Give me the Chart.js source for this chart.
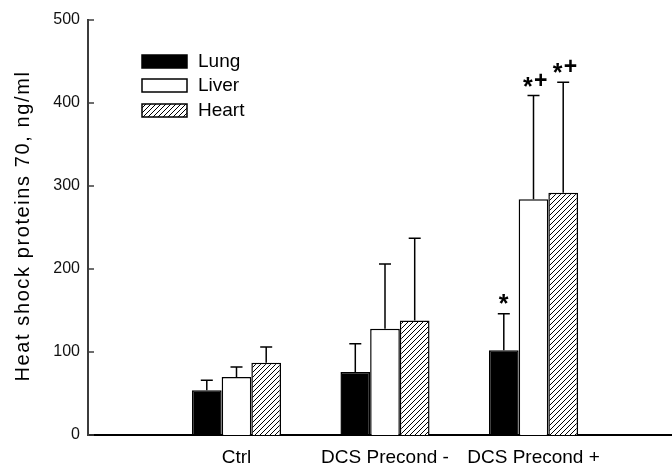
<!DOCTYPE html>
<html>
<head>
<meta charset="utf-8">
<script src="https://cdn.jsdelivr.net/npm/chart.js@4.4.0/dist/chart.umd.min.js"></script>
<style>
  body { margin: 0; overflow: hidden; background: #fff; }
</style>
</head>
<body>
<canvas id="grafico" width="685" height="465"></canvas>
<script>
// categorias (vazias nas pontas para o eixo chegar até a borda)
const categorias = ['', 'Ctrl', 'DCS Precond -', 'DCS Precond +', ''];
const series = ['Lung', 'Liver', 'Heart'];

const lung = [null, 54, 76, 102, null];
const liver = [null, 70, 128, 284, null];
const heart = [null, 87, 138, 292, null];

const lungErr = [null, 66, 110, 146, null];
const liverErr = [null, 82, 206, 409, null];
const heartErr = [null, 106, 237, 425, null];

// marcas de significância: * e +
const lungEstrela = [null, false, false, true, null];
const liverEstrela = [null, false, false, true, null];
const heartEstrela = [null, false, false, true, null];
const lungMais = [null, false, false, false, null];
const liverMais = [null, false, false, true, null];
const heartMais = [null, false, false, true, null];

const yTicks = [0, 100, 200, 300, 400, 500];
const tituloY = 'Heat shock proteins 70, ng/ml';

const FONTE = '"Liberation Sans", Arial, sans-serif';

function hachura() {
  const c = document.createElement('canvas');
  c.width = 5; c.height = 5;
  const g = c.getContext('2d');
  g.fillStyle = '#fff';
  g.fillRect(0, 0, 5, 5);
  g.strokeStyle = '#000';
  g.lineWidth = 1;
  g.beginPath();
  g.moveTo(-1, 6); g.lineTo(6, -1);
  g.moveTo(-1, 1); g.lineTo(1, -1);
  g.moveTo(4, 6); g.lineTo(6, 4);
  g.stroke();
  return document.getElementById('grafico').getContext('2d').createPattern(c, 'repeat');
}

// desenha um glifo centrado (pela caixa real) em cx, cy
function glifo(ctx, txt, fonte, cx, cy) {
  ctx.font = fonte;
  const m = ctx.measureText(txt);
  const w = m.actualBoundingBoxRight + m.actualBoundingBoxLeft;
  const h = m.actualBoundingBoxAscent + m.actualBoundingBoxDescent;
  ctx.fillText(txt, cx - w / 2 + m.actualBoundingBoxLeft, cy + h / 2 - m.actualBoundingBoxDescent);
}

const erros = [lungErr, liverErr, heartErr];
const estrelas = [lungEstrela, liverEstrela, heartEstrela];
const mais = [lungMais, liverMais, heartMais];

const errosPlugin = {
  id: 'erros',
  afterDatasetsDraw(chart) {
    const ctx = chart.ctx;
    const y = chart.scales.y;
    ctx.save();
    chart.data.datasets.forEach((ds, i) => {
      const meta = chart.getDatasetMeta(i);
      meta.data.forEach((bar, j) => {
        const e = erros[i][j];
        if (e == null || ds.data[j] == null) return;
        const yt = y.getPixelForValue(e);
        ctx.strokeStyle = '#000';
        ctx.lineWidth = 1.5;
        ctx.beginPath();
        ctx.moveTo(bar.x, bar.y);
        ctx.lineTo(bar.x, yt);
        ctx.moveTo(bar.x - 6, yt);
        ctx.lineTo(bar.x + 6, yt);
        ctx.stroke();
        ctx.fillStyle = '#000';
        ctx.textAlign = 'left';
        ctx.textBaseline = 'alphabetic';
        const temMais = mais[i][j];
        if (estrelas[i][j]) {
          glifo(ctx, '*', 'bold 25px ' + FONTE, bar.x + (temMais ? -5.5 : 0), yt - (temMais ? 14 : 15));
        }
        if (temMais) {
          glifo(ctx, '+', 'bold 23px ' + FONTE, bar.x + 7, yt - 16.5);
        }
      });
    });
    ctx.restore();
  }
};

const extrasPlugin = {
  id: 'extras',
  afterDraw(chart) {
    const ctx = chart.ctx;
    const y = chart.scales.y;
    const area = chart.chartArea;
    ctx.save();
    // ticks para dentro
    ctx.strokeStyle = '#3c3c3c';
    ctx.lineWidth = 1.5;
    yTicks.forEach(v => {
      const p = y.getPixelForValue(v);
      ctx.beginPath();
      ctx.moveTo(area.left, p);
      ctx.lineTo(area.left + 6, p);
      ctx.stroke();
    });
    // legenda
    const ly = [55, 79, 104];
    chart.data.datasets.forEach((ds, i) => {
      ctx.fillStyle = ds.backgroundColor;
      ctx.fillRect(142, ly[i], 45, 13);
      ctx.strokeStyle = '#000';
      ctx.lineWidth = 1.5;
      ctx.strokeRect(142, ly[i], 45, 13);
      ctx.fillStyle = '#000';
      ctx.font = '19px ' + FONTE;
      ctx.textAlign = 'left';
      ctx.textBaseline = 'middle';
      ctx.fillText(ds.label, 198, ly[i] + 7);
    });
    // título do eixo y
    ctx.translate(23, 226);
    ctx.rotate(-Math.PI / 2);
    ctx.font = '20px ' + FONTE;
    ctx.letterSpacing = '1.6px';
    ctx.textAlign = 'center';
    ctx.textBaseline = 'middle';
    ctx.fillStyle = '#000';
    ctx.fillText(tituloY, 0, 0);
    ctx.restore();
  }
};

const padrao = hachura();

new Chart(document.getElementById('grafico'), {
  type: 'bar',
  data: {
    labels: categorias,
    datasets: [
      { label: series[0], data: lung, backgroundColor: '#000', borderColor: '#000', borderWidth: 1.5 },
      { label: series[1], data: liver, backgroundColor: '#fff', borderColor: '#000', borderWidth: 1.5 },
      { label: series[2], data: heart, backgroundColor: padrao, borderColor: '#000', borderWidth: 1.5 }
    ]
  },
  options: {
    responsive: false,
    animation: false,
    layout: { padding: { top: 20, left: 0, right: 0, bottom: 0 } },
    datasets: { bar: { categoryPercentage: 0.6, barPercentage: 1.0 } },
    plugins: { legend: { display: false }, tooltip: { enabled: false } },
    scales: {
      x: {
        offset: false,
        grid: { display: false },
        border: { color: '#000', width: 2 },
        ticks: { color: '#000', font: { family: FONTE, size: 19 }, padding: 3, maxRotation: 0, autoSkip: false },
        afterFit(s) { s.height = 30; }
      },
      y: {
        min: 0,
        max: 500,
        grid: { display: false },
        border: { color: '#3c3c3c', width: 2 },
        ticks: { stepSize: 100, color: '#111', font: { family: FONTE, size: 16 }, padding: 0 },
        afterFit(s) { s.width = 88; }
      }
    }
  },
  plugins: [errosPlugin, extrasPlugin]
});
</script>
</body>
</html>
